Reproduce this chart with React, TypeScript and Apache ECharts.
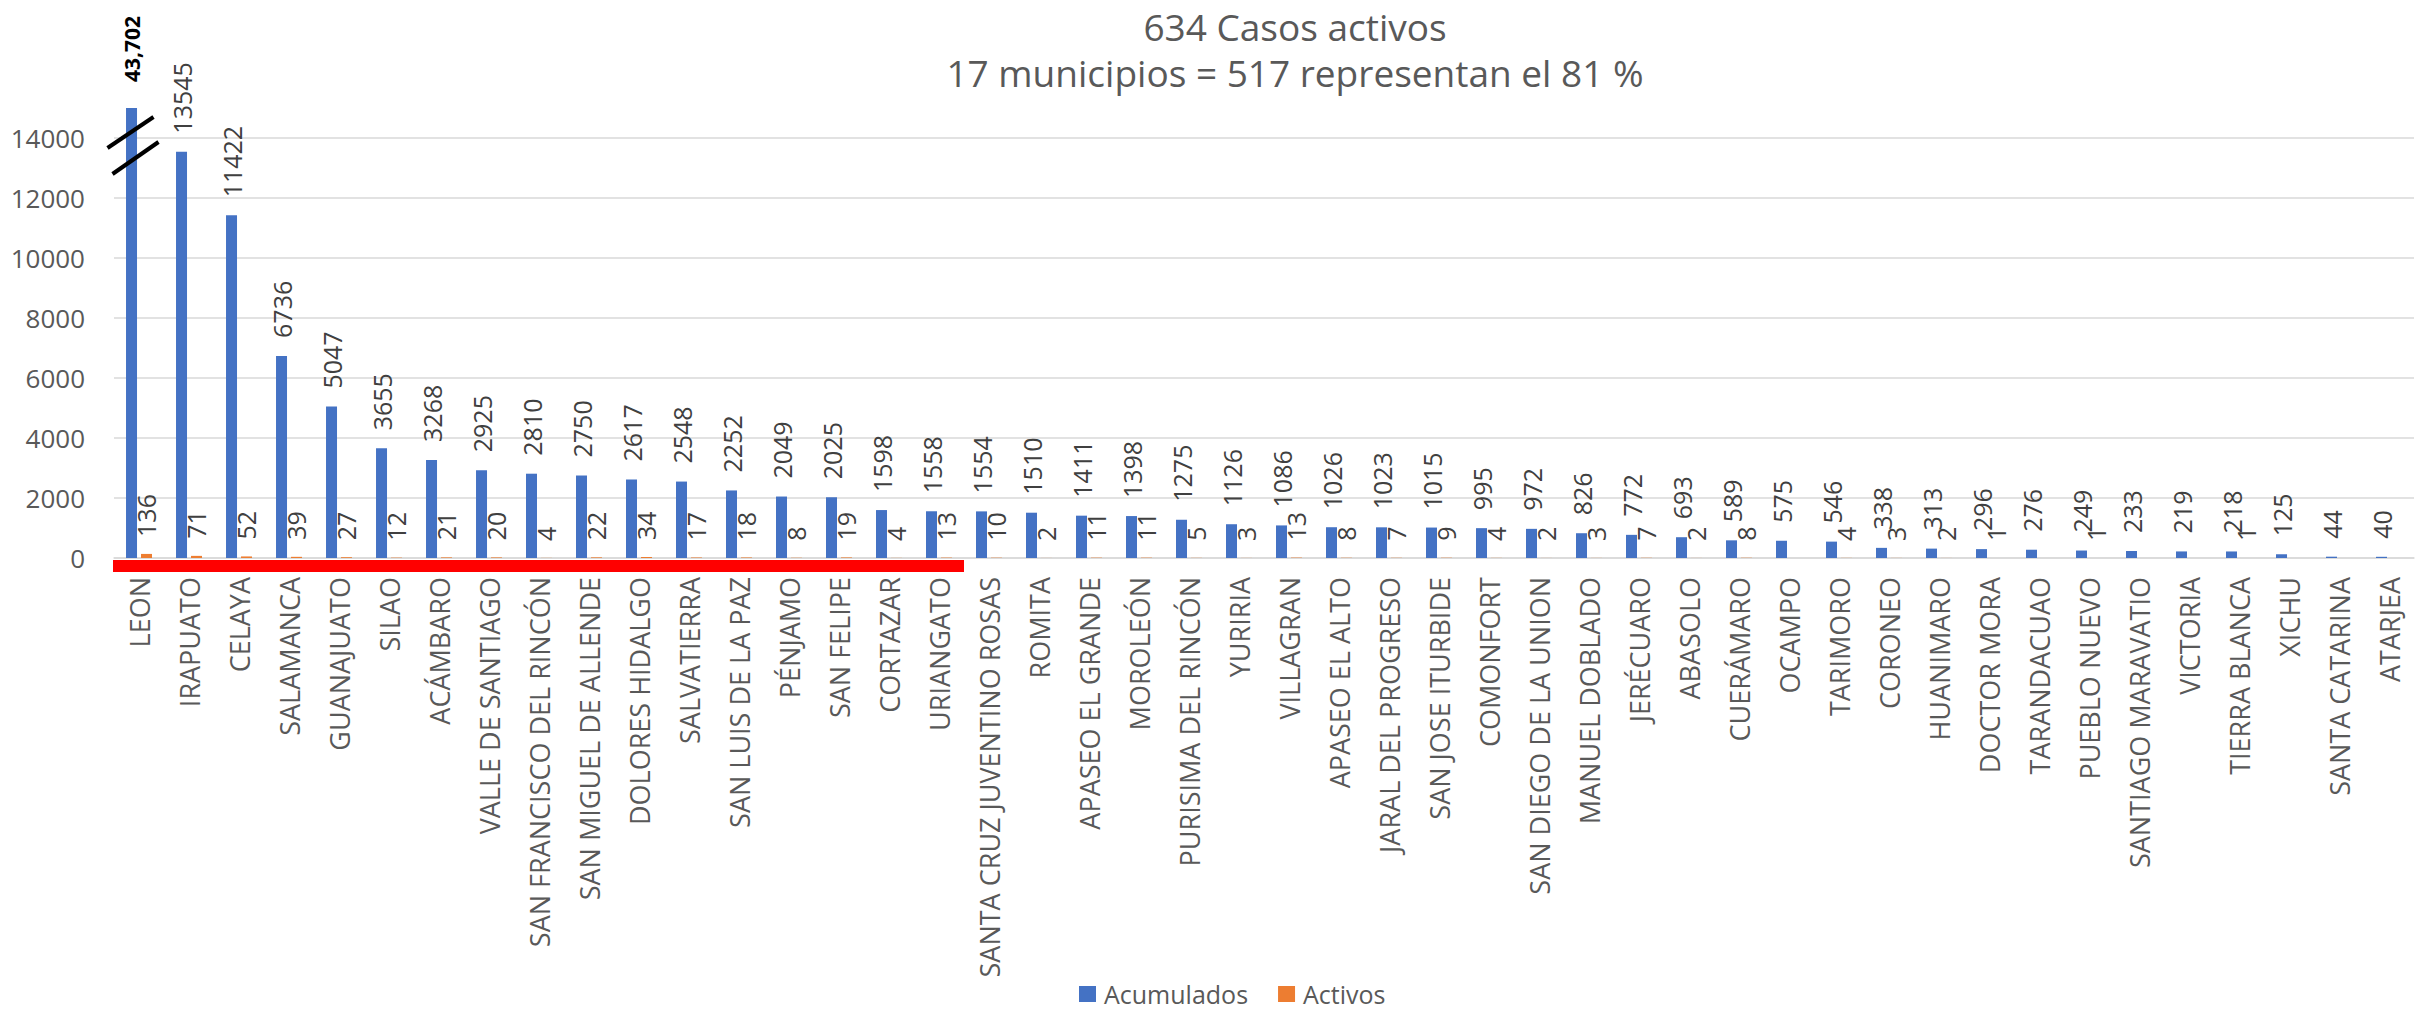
import React, { useEffect, useRef } from 'react';
import * as echarts from 'echarts';

const categories = [
  'LEON', 'IRAPUATO', 'CELAYA', 'SALAMANCA', 'GUANAJUATO', 'SILAO', 'ACÁMBARO',
  'VALLE DE SANTIAGO', 'SAN FRANCISCO DEL RINCÓN', 'SAN MIGUEL DE ALLENDE',
  'DOLORES HIDALGO', 'SALVATIERRA', 'SAN LUIS DE LA PAZ', 'PÉNJAMO', 'SAN FELIPE',
  'CORTAZAR', 'URIANGATO', 'SANTA CRUZ JUVENTINO ROSAS', 'ROMITA', 'APASEO EL GRANDE',
  'MOROLEÓN', 'PURISIMA DEL RINCÓN', 'YURIRIA', 'VILLAGRAN', 'APASEO EL ALTO',
  'JARAL DEL PROGRESO', 'SAN JOSE ITURBIDE', 'COMONFORT', 'SAN DIEGO DE LA UNION',
  'MANUEL DOBLADO', 'JERÉCUARO', 'ABASOLO', 'CUERÁMARO', 'OCAMPO', 'TARIMORO',
  'CORONEO', 'HUANIMARO', 'DOCTOR MORA', 'TARANDACUAO', 'PUEBLO NUEVO',
  'SANTIAGO MARAVATIO', 'VICTORIA', 'TIERRA BLANCA', 'XICHU', 'SANTA CATARINA', 'ATARJEA',
];

const acumulados = [
  43702, 13545, 11422, 6736, 5047, 3655, 3268, 2925, 2810, 2750, 2617, 2548, 2252, 2049,
  2025, 1598, 1558, 1554, 1510, 1411, 1398, 1275, 1126, 1086, 1026, 1023, 1015, 995, 972,
  826, 772, 693, 589, 575, 546, 338, 313, 296, 276, 249, 233, 219, 218, 125, 44, 40,
];

const activos: (number | null)[] = [
  136, 71, 52, 39, 27, 12, 21, 20, 4, 22, 34, 17, 18, 8, 19, 4, 13, 10, 2, 11, 11, 5, 3, 13,
  8, 7, 9, 4, 2, 3, 7, 2, 8, null, 4, 3, 2, 1, null, 1, null, null, 1, null, null, null,
];

const legendNames = ['Acumulados', 'Activos'];
const titleLines = ['634 Casos activos', '17 municipios = 517 representan el 81 %'];
const Y_MAX = 15000; // axis is broken: values above this are drawn capped
const Y_INTERVAL = 2000;
const HIGHLIGHT_COUNT = 17;

export default function App() {
  const ref = useRef<HTMLDivElement>(null);

  useEffect(() => {
    document.body.style.margin = '0';
    const chart = echarts.init(ref.current as HTMLDivElement, null, { renderer: 'svg' });
    const font = 'Open Sans';
    const gridLeft = 114;
    const gridTop = 108;
    const gridWidth = 2300;
    const gridHeight = 450;

    const blueData = acumulados.map((v) =>
      v > Y_MAX
        ? {
            value: Y_MAX,
            label: {
              formatter: v.toLocaleString('en-US'),
              fontWeight: 'bold',
              color: '#000000',
              fontSize: 21,
              distance: 26,
            },
          }
        : v
    );

    const option: any = {
      animation: false,
      backgroundColor: '#ffffff',
      grid: { left: gridLeft, top: gridTop, width: gridWidth, height: gridHeight },
      legend: {
        data: legendNames,
        left: 1074,
        top: 976,
        icon: 'rect',
        itemWidth: 17,
        itemHeight: 16,
        itemGap: 30,
        textStyle: {
          color: '#595959',
          fontFamily: font,
          fontSize: 25,
          lineHeight: 26,
          padding: [0, 0, 0, 3],
        },
      },
      xAxis: {
        type: 'category',
        data: categories,
        axisLine: { lineStyle: { color: '#d9d9d9', width: 1.5 } },
        axisTick: { show: false },
        axisLabel: {
          interval: 0,
          rotate: 90,
          margin: 19,
          color: '#595959',
          fontFamily: font,
          fontSize: 27,
        },
      },
      yAxis: {
        type: 'value',
        min: 0,
        max: Y_MAX,
        interval: Y_INTERVAL,
        axisLine: { show: false },
        axisTick: { show: false },
        axisLabel: {
          showMaxLabel: false,
          margin: 29,
          color: '#595959',
          fontFamily: font,
          fontSize: 26,
          formatter: (v: number) => String(v),
        },
        splitLine: { showMaxLine: false, lineStyle: { color: '#d9d9d9', width: 1.5 } },
      },
      series: [
        {
          name: legendNames[0],
          type: 'bar',
          data: blueData,
          barWidth: 11,
          barGap: '36%',
          itemStyle: { color: '#4472C4' },
          label: {
            show: true,
            position: 'top',
            rotate: 90,
            align: 'left',
            verticalAlign: 'middle',
            distance: 18,
            color: '#404040',
            fontFamily: font,
            fontSize: 25,
          },
        },
        {
          name: legendNames[1],
          type: 'bar',
          data: activos,
          barWidth: 11,
          barGap: '36%',
          itemStyle: { color: '#ED7D31' },
          label: {
            show: true,
            position: 'top',
            rotate: 90,
            align: 'left',
            verticalAlign: 'middle',
            distance: 17,
            color: '#404040',
            fontFamily: font,
            fontSize: 25,
          },
        },
      ],
    };

    chart.setOption(option);

    // decorations computed from the axes
    const c0 = chart.convertToPixel({ xAxisIndex: 0 }, 0) as number;
    const band = gridWidth / categories.length;
    const cLast = chart.convertToPixel({ xAxisIndex: 0 }, HIGHLIGHT_COUNT - 1) as number;
    const y0 = chart.convertToPixel({ yAxisIndex: 0 }, 0) as number;
    const bx = c0 - 7.5;
    const yBreak = chart.convertToPixel({ yAxisIndex: 0 }, 13300) as number;

    chart.setOption({
      graphic: [
        {
          type: 'text',
          x: 1295,
          y: 26,
          style: {
            text: titleLines[0],
            fill: '#595959',
            font: `37px "${font}"`,
            textAlign: 'center',
            textVerticalAlign: 'middle',
          },
        },
        {
          type: 'text',
          x: 1295,
          y: 72,
          style: {
            text: titleLines[1],
            fill: '#595959',
            font: `37px "${font}"`,
            textAlign: 'center',
            textVerticalAlign: 'middle',
          },
        },
        {
          type: 'rect',
          shape: { x: gridLeft - 1, y: y0 + 2, width: cLast + band / 2 - gridLeft + 1, height: 12 },
          style: { fill: '#ff0000' },
          z: 10,
        },
        {
          type: 'line',
          shape: { x1: bx - 24, y1: yBreak - 11, x2: bx + 22, y2: yBreak - 42 },
          style: { stroke: '#000000', lineWidth: 4 },
          z: 10,
        },
        {
          type: 'line',
          shape: { x1: bx - 19, y1: yBreak + 15, x2: bx + 27, y2: yBreak - 17 },
          style: { stroke: '#000000', lineWidth: 4 },
          z: 10,
        },
      ],
    });

    return () => chart.dispose();
  }, []);

  return <div ref={ref} style={{ width: 2425, height: 1014 }} />;
}
